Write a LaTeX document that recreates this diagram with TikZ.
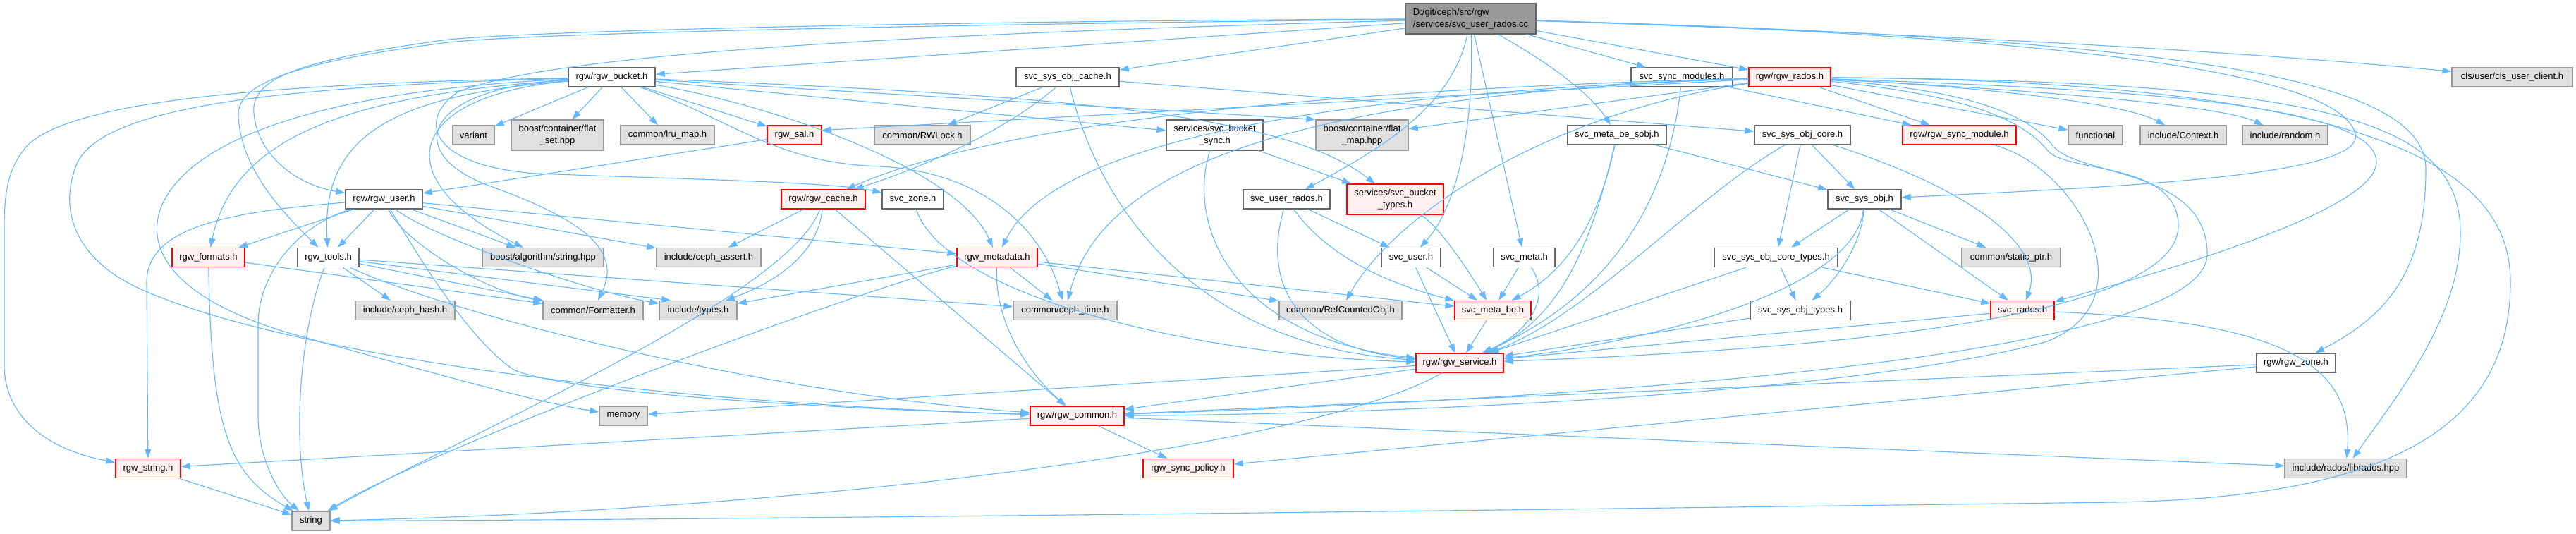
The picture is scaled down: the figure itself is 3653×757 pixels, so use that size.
\documentclass[tikz,border=0pt]{standalone}
\usepackage{fontspec}
\setmainfont{Liberation Sans}
\usetikzlibrary{arrows.meta}
\definecolor{eb}{HTML}{63B8FF}
\definecolor{gfill}{HTML}{E0E0E0}
\definecolor{gbord}{HTML}{999999}
\definecolor{nbord}{HTML}{666666}
\definecolor{rfill}{HTML}{FFF0F0}
\definecolor{rootfill}{HTML}{999999}
\tikzset{
  nd/.style={draw=nbord, fill=white, line width=1.3pt, minimum height=27pt, inner sep=2pt, align=center, font=\fontsize{13}{16.5}\selectfont},
  gr/.style={nd, draw=gbord, fill=gfill},
  rd/.style={nd, draw=red, fill=rfill},
  rt/.style={nd, draw=nbord, fill=rootfill, align=left, minimum height=43pt},
  two/.style={minimum height=43pt},
  mw/.style={minimum width=#1pt},
  ed/.style={draw=eb, line width=1.1pt, -{Triangle[length=13pt,width=9pt]}}
}
\begin{document}
\begin{tikzpicture}[x=1pt,y=-1pt]
\fill[white] (0,0) rectangle (3653,757);
\useasboundingbox (0,0) rectangle (3653,757);
% nodes
\node[rt, mw=185] (root) at (2085.5,26.5) {D:/git/ceph/src/rgw\\/services/svc\_user\_rados.cc};
\node[nd, mw=123] (bucket) at (867.5,109.5) {rgw/rgw\_bucket.h};
\node[nd, mw=146] (objcache) at (1514,109.5) {svc\_sys\_obj\_cache.h};
\node[nd, mw=144] (syncmods) at (2385,109.5) {svc\_sync\_modules.h};
\node[rd, mw=116] (rados) at (2538,109.5) {rgw/rgw\_rados.h};
\node[gr, mw=171] (clsuser) at (3562.5,109.5) {cls/user/cls\_user\_client.h};
\node[gr, mw=59] (variant) at (671.5,191.5) {variant};
\node[gr, two, mw=131] (flatset) at (790.5,191.5) {boost/container/flat\\\_set.hpp};
\node[gr, mw=133] (lrumap) at (946.5,191.5) {common/lru\_map.h};
\node[rd, mw=77] (sal) at (1126.5,191.5) {rgw\_sal.h};
\node[gr, mw=136] (rwlock) at (1308,191.5) {common/RWLock.h};
\node[nd, two, mw=137] (bsync) at (1722.5,191.5) {services/svc\_bucket\\\_sync.h};
\node[gr, two, mw=131] (flatmap) at (1931.5,191.5) {boost/container/flat\\\_map.hpp};
\node[nd, mw=140] (sobj) at (2293,191.5) {svc\_meta\_be\_sobj.h};
\node[nd, mw=136] (objcore) at (2556,191.5) {svc\_sys\_obj\_core.h};
\node[rd, mw=161] (syncmod) at (2778.5,191.5) {rgw/rgw\_sync\_module.h};
\node[gr, mw=77] (functional) at (2971.5,191.5) {functional};
\node[gr, mw=122] (context) at (3096,191.5) {include/Context.h};
\node[gr, mw=121] (random) at (3240.5,191.5) {include/random.h};
\node[nd, mw=109] (user) at (544.5,282.5) {rgw/rgw\_user.h};
\node[rd, mw=119] (cache) at (1167.5,282.5) {rgw/rgw\_cache.h};
\node[nd, mw=87] (zone) at (1294.5,282.5) {svc\_zone.h};
\node[nd, mw=123] (urados) at (1824.5,282.5) {svc\_user\_rados.h};
\node[rd, two, mw=137] (btypes) at (1978.5,282.5) {services/svc\_bucket\\\_types.h};
\node[nd, mw=104] (sysobj) at (2644,282.5) {svc\_sys\_obj.h};
\node[rd, mw=103] (formats) at (295.5,365) {rgw\_formats.h};
\node[nd, mw=87] (tools) at (465.5,365) {rgw\_tools.h};
\node[gr, mw=172] (balgo) at (770,365) {boost/algorithm/string.hpp};
\node[gr, mw=148] (cassert) at (1005,365) {include/ceph\_assert.h};
\node[rd, mw=114] (metadata) at (1414,365) {rgw\_metadata.h};
\node[nd, mw=84] (svcuser) at (2001,365) {svc\_user.h};
\node[nd, mw=87] (meta) at (2161.5,365) {svc\_meta.h};
\node[nd, mw=175] (coretypes) at (2518.5,365) {svc\_sys\_obj\_core\_types.h};
\node[gr, mw=140] (staticptr) at (2852,365) {common/static\_ptr.h};
\node[gr, mw=141] (chash) at (574.5,440) {include/ceph\_hash.h};
\node[gr, mw=142] (formatter) at (841,440) {common/Formatter.h};
\node[gr, mw=110] (types) at (990,440) {include/types.h};
\node[gr, mw=147] (ctime) at (1510.5,440) {common/ceph\_time.h};
\node[gr, mw=174] (refobj) at (1901,440) {common/RefCountedObj.h};
\node[rd, mw=108] (metabe) at (2117,440) {svc\_meta\_be.h};
\node[nd, mw=142] (objtypes) at (2553,440) {svc\_sys\_obj\_types.h};
\node[rd, mw=90] (svcrados) at (2868,440) {svc\_rados.h};
\node[rd, mw=124] (service) at (2070,514.5) {rgw/rgw\_service.h};
\node[nd, mw=112] (rgwzone) at (3256,514.5) {rgw/rgw\_zone.h};
\node[gr, mw=68] (memory) at (884,589.5) {memory};
\node[rd, mw=133] (common) at (1527.5,589.5) {rgw/rgw\_common.h};
\node[rd, mw=92] (rstring) at (210,664) {rgw\_string.h};
\node[rd, mw=128] (policy) at (1685,664) {rgw\_sync\_policy.h};
\node[gr, mw=173] (librados) at (3326.5,664) {include/rados/librados.hpp};
\node[gr, mw=54] (string) at (441,738.5) {string};
% root edges
\draw[ed] (root) -- (bucket);
\draw[ed] (root) -- (objcache);
\draw[ed] (root) -- (syncmods);
\draw[ed] (root) -- (rados);
\draw[ed] (root) .. controls (2800,50) and (3200,75) .. (clsuser);
\draw[ed] (root) .. controls (1300,30) and (700,45) .. (621,58) .. controls (430,85) and (355,110) .. (360,160) .. controls (365,220) and (420,262) .. (user);
\draw[ed] (root) .. controls (1300,35) and (700,48) .. (621,62) .. controls (410,90) and (335,120) .. (338,165) .. controls (342,240) and (400,300) .. (tools);
\draw[ed] (root) .. controls (1400,45) and (800,70) .. (650,130) .. controls (590,170) and (610,235) .. (760,246) .. controls (1000,255) and (1180,258) .. (zone);
\draw[ed] (root) .. controls (2060,150) and (1960,210) .. (urados);
\draw[ed] (root) .. controls (2091,200) and (2060,300) .. (svcuser);
\draw[ed] (root) -- (meta);
\draw[ed] (root) .. controls (2215,100) and (2260,140) .. (sobj);
\draw[ed] (root) .. controls (2900,50) and (3320,100) .. (3340,190) .. controls (3355,250) and (3000,265) .. (sysobj);
\draw[ed] (root) .. controls (3100,55) and (3440,110) .. (3440,240) .. controls (3440,390) and (3380,450) .. (rgwzone);
% rgw_bucket edges
\draw[ed] (bucket) -- (variant);
\draw[ed] (bucket) -- (flatset);
\draw[ed] (bucket) -- (lrumap);
\draw[ed] (bucket) -- (sal);
\draw[ed] (bucket) -- (bsync);
\draw[ed] (bucket) -- (flatmap.north west);
\draw[ed] (bucket) .. controls (1500,135) and (1820,160) .. (btypes);
\draw[ed] (bucket) .. controls (1100,150) and (1360,240) .. (metadata);
\draw[ed] (bucket) .. controls (1040,170) and (1100,232) .. (1250,236) .. controls (1400,245) and (1480,330) .. (ctime);
\draw[ed] (bucket) .. controls (560,135) and (455,190) .. (tools);
\draw[ed] (bucket) .. controls (480,135) and (330,200) .. (formats);
\draw[ed] (bucket) .. controls (400,118) and (110,140) .. (40,205) .. controls (8,240) and (6,280) .. (6,330) -- (6,520) .. controls (8,600) and (80,640) .. (rstring);
\draw[ed] (bucket) .. controls (400,122) and (150,150) .. (110,230) .. controls (80,300) and (110,370) .. (200,410) .. controls (400,500) and (900,570) .. (common);
\draw[ed] (bucket) .. controls (450,128) and (270,200) .. (230,290) .. controls (200,360) and (260,430) .. (420,475) .. controls (600,525) and (760,570) .. (memory);
\draw[ed] (bucket) .. controls (580,135) and (540,250) .. (balgo);
\draw[ed] (bucket) .. controls (600,125) and (570,215) .. (690,262) .. controls (840,315) and (880,360) .. (formatter);
% others row 1
\draw[ed] (sal) -- (user);
\draw[ed] (objcache) -- (rwlock);
\draw[ed] (objcache) .. controls (1420,190) and (1300,240) .. (cache);
\draw[ed] (objcache) -- (objcore);
\draw[ed] (objcache) .. controls (1560,300) and (1700,490) .. (service);
\draw[ed] (syncmods) -- (syncmod);
\draw[ed] (syncmods) .. controls (2373,220) and (2330,400) .. (service);
% rgw_rados edges
\draw[ed] (rados) -- (functional);
\draw[ed] (rados) .. controls (2850,125) and (3020,150) .. (context);
\draw[ed] (rados) .. controls (2900,128) and (3150,150) .. (random);
\draw[ed] (rados) -- (flatmap);
\draw[ed] (rados) -- (sal.10);
\draw[ed] (rados) -- (syncmod);
\draw[ed] (rados) .. controls (1750,130) and (1380,190) .. (cache);
\draw[ed] (rados) .. controls (1750,135) and (1480,230) .. (metadata);
\draw[ed] (rados) .. controls (1800,135) and (1560,250) .. (ctime);
\draw[ed] (rados) .. controls (2200,160) and (1980,300) .. (refobj);
\draw[ed] (rados) .. controls (2950,125) and (3370,140) .. (3370,230) .. controls (3370,300) and (3050,390) .. (svcrados);
\draw[ed] (rados) .. controls (2790,135) and (2870,170) .. (2905,215) .. controls (2935,245) and (3089,230) .. (3089,320) .. controls (3089,450) and (2600,495) .. (service);
\draw[ed] (rados) .. controls (2800,128) and (2880,165) .. (2912,208) .. controls (2950,250) and (3130,240) .. (3130,360) .. controls (3130,520) and (2100,570) .. (common);
\draw[ed] (rados) .. controls (3300,115) and (3489,170) .. (3489,330) .. controls (3489,450) and (3400,560) .. (librados);
\draw[ed] (rados) .. controls (3400,115) and (3560,250) .. (3560,400) .. controls (3560,600) and (3400,705) .. (3000,712) .. controls (2000,725) and (1000,737) .. (string);
% rgw_user edges
\draw[ed] (user) -- (formats);
\draw[ed] (user) -- (tools);
\draw[ed] (user) .. controls (330,300) and (208,320) .. (208,400) -- (rstring);
\draw[ed] (user) .. controls (420,320) and (366,390) .. (366,460) -- (366,590) .. controls (366,650) and (395,700) .. (string);
\draw[ed] (user) -- (balgo);
\draw[ed] (user) -- (cassert);
\draw[ed] (user) -- (metadata);
\draw[ed] (user) .. controls (570,340) and (680,410) .. (formatter);
\draw[ed] (user) .. controls (600,330) and (820,410) .. (types);
\draw[ed] (user) .. controls (580,340) and (660,480) .. (730,525) .. controls (820,560) and (1200,580) .. (common);
% rgw_tools / formats
\draw[ed] (tools) -- (chash);
\draw[ed] (tools) -- (formatter);
\draw[ed] (tools) -- (types.160);
\draw[ed] (tools) -- (ctime);
\draw[ed] (tools) .. controls (650,450) and (1100,560) .. (common);
\draw[ed] (tools) .. controls (425,470) and (415,620) .. (string);
\draw[ed] (formats) -- (formatter);
\draw[ed] (formats) .. controls (300,600) and (320,670) .. (string);
% rgw_cache
\draw[ed] (cache) -- (cassert);
\draw[ed] (cache) .. controls (1160,360) and (1100,400) .. (types);
\draw[ed] (cache) -- (common);
\draw[ed] (cache) .. controls (1120,420) and (650,620) .. (string);
% services
\draw[ed] (zone) .. controls (1340,420) and (1700,505) .. (service);
\draw[ed] (urados) -- (svcuser);
\draw[ed] (urados) .. controls (1880,360) and (1960,400) .. (metabe);
\draw[ed] (urados) .. controls (1785,420) and (1860,495) .. (service);
\draw[ed] (bsync) -- (btypes);
\draw[ed] (bsync) .. controls (1680,330) and (1760,480) .. (service);
\draw[ed] (btypes) .. controls (2040,320) and (2080,380) .. (metabe);
\draw[ed] (sobj) -- (sysobj);
\draw[ed] (sobj) .. controls (2270,300) and (2230,380) .. (metabe);
\draw[ed] (sobj) .. controls (2260,330) and (2220,450) .. (service);
\draw[ed] (objcore) -- (sysobj);
\draw[ed] (objcore) -- (coretypes);
\draw[ed] (objcore) .. controls (2800,270) and (2900,350) .. (svcrados);
\draw[ed] (objcore) .. controls (2400,280) and (2250,450) .. (service);
\draw[ed] (sysobj) -- (coretypes);
\draw[ed] (sysobj) .. controls (2640,350) and (2600,400) .. (objtypes);
\draw[ed] (sysobj) -- (staticptr);
\draw[ed] (sysobj) -- (svcrados);
\draw[ed] (sysobj) .. controls (2630,420) and (2300,490) .. (service);
\draw[ed] (svcuser) -- (metabe);
\draw[ed] (svcuser) -- (service);
\draw[ed] (meta) -- (metabe);
\draw[ed] (meta) .. controls (2200,420) and (2170,470) .. (service);
\draw[ed] (coretypes) -- (objtypes);
\draw[ed] (coretypes) -- (svcrados);
\draw[ed] (coretypes) -- (service);
\draw[ed] (objtypes) -- (service);
\draw[ed] (svcrados) -- (service);
\draw[ed] (svcrados) .. controls (3200,455) and (3340,500) .. (librados);
\draw[ed] (metabe) -- (service);
% rgw_metadata
\draw[ed] (metadata) -- (types);
\draw[ed] (metadata) -- (ctime);
\draw[ed] (metadata) .. controls (1410,460) and (1460,530) .. (common);
\draw[ed] (metadata) -- (refobj);
\draw[ed] (metadata) -- (metabe);
\draw[ed] (metadata) .. controls (1250,400) and (620,630) .. (string);
% rgw_service and lower
\draw[ed] (service) -- (common);
\draw[ed] (service) -- (memory);
\draw[ed] (service) .. controls (1850,640) and (1100,725) .. (string);
\draw[ed] (common) -- (rstring);
\draw[ed] (common) -- (policy);
\draw[ed] (common) -- (librados);
\draw[ed] (rgwzone) -- (common);
\draw[ed] (rgwzone) -- (policy);
\draw[ed] (rstring) -- (string);
\draw[ed] (syncmod) .. controls (2950,240) and (3050,430) .. (2900,485) .. controls (2600,565) and (1900,588) .. (common);
\end{tikzpicture}
\end{document}
